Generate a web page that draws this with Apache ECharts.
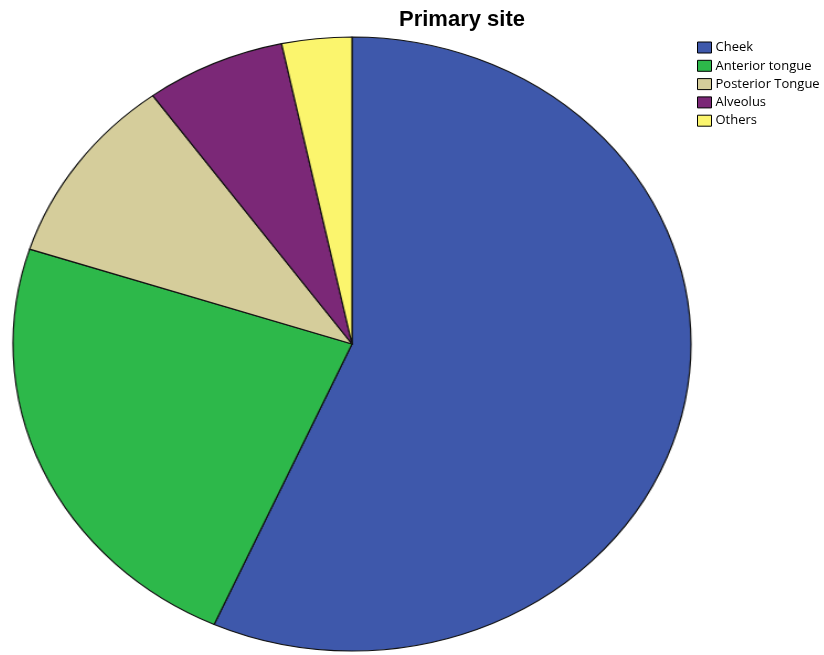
<!DOCTYPE html>
<html>
<head>
<meta charset="utf-8">
<script src="https://cdn.jsdelivr.net/npm/echarts@6/dist/echarts.min.js"></script>
<style>
  html, body { margin: 0; padding: 0; background: #fff; }
  #wrap { position: relative; width: 824px; height: 655px; overflow: hidden; }
  #pie, #overlay { position: absolute; left: 0; top: 0; width: 824px; height: 655px; }
  /* the pie is drawn as a circle and stretched horizontally into an ellipse */
  #pie { transform: scaleX(1.1042); transform-origin: 352px 344px; }
  #overlay { pointer-events: none; }
</style>
</head>
<body>
<div id="wrap">
  <div id="pie"></div>
  <div id="overlay"></div>
</div>
<script>
const titleText = 'Primary site';
const categories = ['Cheek', 'Anterior tongue', 'Posterior Tongue', 'Alveolus', 'Others'];
const counts = [34, 14, 6, 4, 2];
const colors = ['#3e58ab', '#2db84a', '#d5cd9b', '#7b2877', '#fbf56d'];

const sliceData = categories.map((name, i) => ({ name, value: counts[i] }));

const pieChart = echarts.init(document.getElementById('pie'), null, { renderer: 'canvas' });
pieChart.setOption({
  animation: false,
  color: colors,
  series: [{
    type: 'pie',
    center: [352, 344],
    radius: 307,
    startAngle: 90,
    clockwise: true,
    label: { show: false },
    labelLine: { show: false },
    emphasis: { disabled: true },
    itemStyle: { borderColor: '#111', borderWidth: 1.2 },
    data: sliceData
  }]
});

const overlay = echarts.init(document.getElementById('overlay'), null, { renderer: 'canvas' });
overlay.setOption({
  animation: false,
  color: colors,
  title: {
    text: titleText,
    left: 399,
    top: 9,
    padding: 0,
    textStyle: { fontFamily: 'Liberation Sans, Arial, sans-serif', fontSize: 22, fontWeight: 'bold', color: '#000' }
  },
  legend: {
    orient: 'vertical',
    left: 697,
    top: 41,
    padding: 0,
    itemWidth: 14,
    itemHeight: 11,
    itemGap: 5.3,
    icon: 'rect',
    selectedMode: false,
    itemStyle: { borderColor: '#000', borderWidth: 1 },
    textStyle: { fontFamily: 'Open Sans, sans-serif', fontSize: 13, color: '#000', padding: [0, 0, 0, -1] },
    data: categories
  },
  series: [{
    type: 'pie',
    center: [-100, -100],
    radius: 0,
    silent: true,
    label: { show: false },
    labelLine: { show: false },
    data: sliceData
  }]
});
</script>
</body>
</html>
